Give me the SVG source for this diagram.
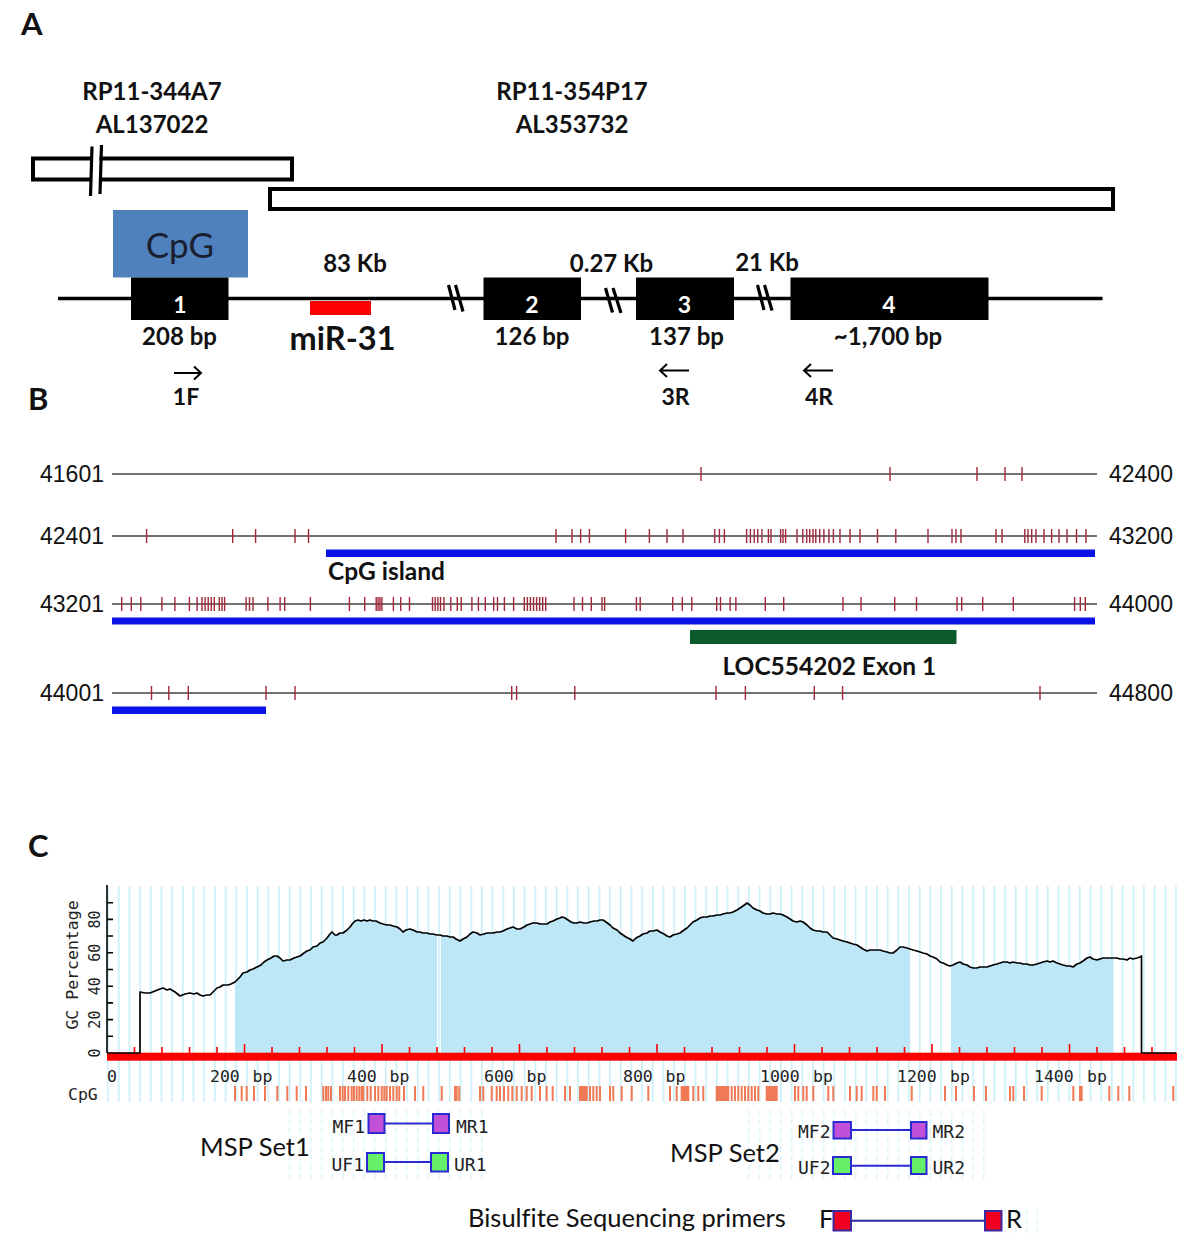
<svg xmlns="http://www.w3.org/2000/svg" width="1200" height="1242" viewBox="0 0 1200 1242">
<style>
text{font-variant-ligatures:none;font-feature-settings:"liga" 0,"clig" 0}
.b{font-family:Lato,"Open Sans","Liberation Sans",sans-serif;font-weight:bold;fill:#111}
.r{font-family:Lato,"Open Sans","Liberation Sans",sans-serif;fill:#111}
.ar{font-family:"Liberation Sans",Arial,sans-serif;font-size:23px;fill:#111}
.mo{font-family:"DejaVu Sans Mono","Liberation Mono",monospace;fill:#222}
.m{text-anchor:middle}
.ob{fill:#fff;stroke:#000;stroke-width:4}
.ex{fill:#000}
.ln{stroke:#000;stroke-width:3.5;fill:none}
.brk{stroke:#000;stroke-width:3.2;fill:none}
.arw{stroke:#000;stroke-width:2;fill:none}
.row{stroke:#444;stroke-width:1.4}
.tk{stroke:#A0283A;stroke-width:1.4;fill:none}
.cpg{stroke:#F07A55;stroke-width:2;fill:none}
.pl{stroke:#2A2AD0;stroke-width:2}
.pb{stroke:#2A2AD0;stroke-width:2}
</style>
<defs>
<pattern id="vg" patternUnits="userSpaceOnUse" x="107.2" y="0" width="10.68" height="10"><rect x="0" y="0" width="1.6" height="10" fill="#C8EFF7"/></pattern>
<pattern id="vgd" patternUnits="userSpaceOnUse" x="107.2" y="1110" width="10.68" height="9"><rect x="0" y="0" width="1.6" height="6" fill="#D6F4FA"/></pattern>
<clipPath id="fillclip"><rect x="235" y="880" width="202" height="174"/><rect x="441" y="880" width="469" height="174"/><rect x="951" y="880" width="162.5" height="174"/></clipPath>
</defs>
<rect width="1200" height="1242" fill="#fff"/>

<!-- Panel A -->
<g id="panelA">
<text class="b" x="21" y="35" font-size="31">A</text>
<g id="clone1">
<text class="b m" x="152" y="99.5" font-size="24">RP11-344A7</text>
<text class="b m" x="152" y="133" font-size="24">AL137022</text>
<path class="ob" d="M91,158.5 H33 V179.5 H91 M99.5,158.5 H292 V179.5 H99.5" fill="#fff"/>
<path class="brk" stroke-width="3.5" d="M92,146.5 L90.5,196 M101.5,145 L100,194"/>
</g>
<g id="clone2">
<text class="b m" x="572" y="99.5" font-size="24">RP11-354P17</text>
<text class="b m" x="572" y="133" font-size="24">AL353732</text>
<rect class="ob" x="270" y="189" width="843" height="20"/>
</g>
<g id="gene">
<rect x="113" y="210" width="135" height="67.5" fill="#4F81BD"/>
<text class="r m" x="180" y="258" font-size="35" style="fill:#1B2030">CpG</text>
<line class="ln" x1="58" y1="298.5" x2="1102.5" y2="298.5"/>
<path class="brk" d="M448.5,285 L455,310 M455.5,285 L463,311.5 M605.5,288 L612.5,312.5 M613,288 L621,313 M757.5,285 L764,310 M764.5,285 L772,310.5"/>
<rect class="ex" x="131" y="277.5" width="97.5" height="42.5"/>
<rect class="ex" x="483.5" y="277.5" width="97.5" height="42.5"/>
<rect class="ex" x="636" y="277.5" width="98" height="42.5"/>
<rect class="ex" x="790.5" y="277.5" width="198" height="42.5"/>
<text class="b m" x="180" y="312.5" font-size="23" style="fill:#fff">1</text>
<text class="b m" x="532" y="312.5" font-size="23" style="fill:#fff">2</text>
<text class="b m" x="684.5" y="312.5" font-size="23" style="fill:#fff">3</text>
<text class="b m" x="889" y="312.5" font-size="23" style="fill:#fff">4</text>
<rect x="310" y="301" width="61" height="14" fill="#FF0000"/>
<text class="b m" x="355" y="272" font-size="24">83 Kb</text>
<text class="b m" x="611.5" y="272" font-size="24">0.27 Kb</text>
<text class="b m" x="767" y="271" font-size="24">21 Kb</text>
<text class="b m" x="179.5" y="345" font-size="24">208 bp</text>
<text class="b m" x="342.5" y="349.5" font-size="32.5">miR-31</text>
<text class="b m" x="532" y="345" font-size="24">126 bp</text>
<text class="b m" x="686.5" y="345" font-size="24">137 bp</text>
<text class="b m" x="888" y="345" font-size="24">~1,700 bp</text>
</g>
<g id="primers">
<path class="arw" d="M174,373 H201 M194,366.5 L201,373 L194,379.5"/>
<text class="b m" x="186" y="405" font-size="23">1F</text>
<path class="arw" d="M689,370.5 H660 M667,364 L660,370.5 L667,377"/>
<text class="b m" x="675.5" y="405" font-size="23">3R</text>
<path class="arw" d="M833,370.5 H804 M811,364 L804,370.5 L811,377"/>
<text class="b m" x="819" y="405" font-size="23">4R</text>
</g>
</g>

<!-- Panel B -->
<g id="panelB">
<text class="b" x="28" y="410" font-size="31">B</text>
<g id="rows">
<line class="row" x1="112" y1="474" x2="1097" y2="474"/>
<line class="row" x1="112" y1="536" x2="1097" y2="536"/>
<line class="row" x1="112" y1="604" x2="1097" y2="604"/>
<line class="row" x1="112" y1="693" x2="1097" y2="693"/>
<text class="ar" x="104" y="482" text-anchor="end">41601</text>
<text class="ar" x="104" y="544" text-anchor="end">42401</text>
<text class="ar" x="104" y="612" text-anchor="end">43201</text>
<text class="ar" x="104" y="701" text-anchor="end">44001</text>
<text class="ar" x="1109" y="482">42400</text>
<text class="ar" x="1109" y="544">43200</text>
<text class="ar" x="1109" y="612">44000</text>
<text class="ar" x="1109" y="701">44800</text>
</g>
<g id="ticks">
<path class="tk" d="M701,467V481M890,467V481M977,467V481M1005,467V481M1022,467V481"/>
<path class="tk" d="M146.6,529V543M232.7,529V543M255.6,529V543M295,529V543M308.5,529V543M556,529V543M572,529V543M580.6,529V543M589.4,529V543M625.6,529V543M649.4,529V543M667,529V543M683,529V543M714.8,529V543M719.4,529V543M724.4,529V543M746.6,529V543M750.4,529V543M754.2,529V543M757.7,529V543M761.9,529V543M768.4,529V543M771,529V543M780.6,529V543M783,529V543M785.6,529V543M797,529V543M802.8,529V543M806.7,529V543M809.7,529V543M813,529V543M815.8,529V543M819.7,529V543M823.9,529V543M828.9,529V543M833.4,529V543M840,529V543M850,529V543M860,529V543M877.5,529V543M895.8,529V543M928,529V543M952,529V543M956,529V543M961,529V543M996,529V543M1002,529V543M1024.8,529V543M1028,529V543M1031.7,529V543M1036,529V543M1044,529V543M1051.6,529V543M1059,529V543M1067,529V543M1076.5,529V543M1086,529V543"/>
<path class="tk" d="M121.7,597V611M131.3,597V611M140.8,597V611M161.9,597V611M174.9,597V611M189.4,597V611M197.1,597V611M202,597V611M205.1,597V611M208.2,597V611M211.3,597V611M214.3,597V611M219.3,597V611M222,597V611M224.6,597V611M246.1,597V611M249.5,597V611M253,597V611M267.9,597V611M280.1,597V611M284.7,597V611M310.4,597V611M349.4,597V611M364.7,597V611M376.2,597V611M378.1,597V611M380,597V611M381.9,597V611M393.4,597V611M400.7,597V611M409.5,597V611M432.5,597V611M435.2,597V611M437.9,597V611M440.5,597V611M444,597V611M450.8,597V611M457.3,597V611M461.2,597V611M471.9,597V611M478.4,597V611M485.3,597V611M493.7,597V611M497.5,597V611M504.4,597V611M513.6,597V611M524.3,597V611M527.4,597V611M530.4,597V611M533.5,597V611M536.6,597V611M539.6,597V611M542.7,597V611M545.7,597V611M574,597V611M582.5,597V611M591.3,597V611M602,597V611M604.6,597V611M636.4,597V611M640.2,597V611M672.7,597V611M682.3,597V611M691.8,597V611M716.7,597V611M720.5,597V611M730.1,597V611M735.9,597V611M765.3,597V611M783.7,597V611M843,597V611M861,597V611M894.7,597V611M916.5,597V611M957,597V611M961.7,597V611M982.7,597V611M1013.3,597V611M1074.6,597V611M1080.3,597V611M1085.3,597V611"/>
<path class="tk" d="M151.5,686V700M168.8,686V700M188.3,686V700M266,686V700M295,686V700M511.7,686V700M516.6,686V700M574.8,686V700M716,686V700M745.4,686V700M814.3,686V700M842.6,686V700M1040,686V700"/>
</g>
<g id="annot">
<rect x="326" y="549.5" width="769" height="7.5" fill="#0A12E8"/>
<rect x="112" y="617.5" width="983" height="7" fill="#0A12E8"/>
<rect x="112" y="706.5" width="154" height="7.5" fill="#0A12E8"/>
<rect x="690" y="630" width="266.5" height="14" fill="#0A5A2C"/>
<text class="b" x="328" y="580" font-size="24.5">CpG island</text>
<text class="b" x="722.5" y="675" font-size="24.5">LOC554202 Exon 1</text>
</g>
</g>

<!-- Panel C -->
<g id="panelC">
<text class="b" x="28" y="857" font-size="31">C</text>
<rect x="107" y="886" width="1070" height="216" fill="url(#vg)"/>
<g id="curve">
<polygon clip-path="url(#fillclip)" fill="#BDE7F7" points="140,1053 140,992 145,993 150,993 155,991 160,989 163,988 167,990 170,989 175,992 180,996 185,994 190,993 194,994 197,993 200,995 203,996 207,995 210,995 213,992 217,988 220,987 223,985 228,985 231,984 235,982 240,977 243,973 247,972 250,970 253,969 257,967 261,965 264,962 267,960 271,958 274,956 277,956 280,958 283,961 287,960 290,960 294,958 297,957 300,956 304,953 307,951 310,950 313,947 317,946 320,943 323,942 327,938 330,934 332,932 335,935 337,935 340,933 343,933 347,930 350,927 353,923 355,921 358,920 361,921 364,920 367,921 370,920 373,921 376,921 380,923 383,924 387,925 390,925 393,926 397,927 400,929 403,932 406,930 410,929 413,930 417,932 420,932 423,933 427,933 430,934 433,934 437,935 440,935 443,936 447,936 450,937 453,937 456,939 460,941 463,939 467,937 470,934 473,932 477,933 480,935 484,934 487,933 490,933 493,933 497,932 500,932 503,931 507,929 510,928 513,927 517,929 520,929 524,927 527,925 530,924 533,923 537,923 540,924 543,924 547,924 550,922 553,921 557,919 560,918 562,917 565,918 568,920 571,922 574,923 577,923 580,922 584,923 587,923 590,922 594,921 597,921 600,920 603,920 606,922 610,925 613,928 617,930 620,933 623,935 626,937 630,939 633,941 636,938 640,936 643,934 647,933 650,931 653,931 657,930 660,932 664,934 667,936 670,937 673,935 677,934 680,933 684,930 687,928 690,925 693,922 697,920 700,918 703,917 707,917 710,916 713,916 717,915 720,915 723,914 727,913 730,913 733,912 737,910 740,908 743,906 747,903 750,905 753,908 757,910 760,911 763,913 767,914 770,914 773,913 777,914 780,914 783,915 787,917 790,919 793,921 797,922 800,921 803,922 807,925 810,928 813,930 817,931 820,931 823,932 827,932 830,935 833,938 837,939 840,940 843,941 847,942 850,943 853,944 857,945 860,947 863,949 867,951 870,950 873,950 877,950 880,950 883,951 887,952 890,953 893,953 897,950 900,947 903,947 907,948 910,949 913,950 917,951 920,952 923,953 927,954 930,956 933,957 937,959 940,962 943,963 947,965 950,966 953,965 957,963 960,962 963,964 967,965 970,967 973,968 977,968 980,967 983,967 987,967 990,966 993,965 997,964 1000,963 1003,962 1007,962 1010,963 1013,962 1017,963 1020,963 1023,964 1027,964 1030,965 1033,965 1037,964 1040,963 1043,962 1047,961 1050,962 1053,961 1057,963 1060,964 1063,965 1067,966 1070,966 1073,967 1077,964 1080,963 1083,961 1087,958 1090,957 1093,959 1097,960 1100,959 1103,958 1107,958 1110,958 1113,958 1117,958 1120,959 1123,959 1127,960 1130,958 1133,959 1137,958 1140,957 1141.5,956 1141.5,1053"/>
<rect x="107" y="1052.7" width="1070" height="8" fill="#FF0000"/>
<path stroke="#FF0000" stroke-width="1.6" d="M134.5,1047V1053M162,1047V1053M189.5,1047V1053M217,1047V1053M244.5,1044V1053M272,1047V1053M299.5,1047V1053M327,1047V1053M354.5,1047V1053M382,1044V1053M409.5,1047V1053M437,1047V1053M464.5,1047V1053M492,1047V1053M519.5,1044V1053M547,1047V1053M574.5,1047V1053M602,1047V1053M629.5,1047V1053M657,1044V1053M684.5,1047V1053M712,1047V1053M739.5,1047V1053M767,1047V1053M794.5,1044V1053M822,1047V1053M849.5,1047V1053M877,1047V1053M904.5,1047V1053M932,1044V1053M959.5,1047V1053M987,1047V1053M1014.5,1047V1053M1042,1047V1053M1069.5,1044V1053M1097,1047V1053M1124.5,1047V1053M1152,1047V1053"/>
<polyline fill="none" stroke="#000" stroke-width="1.7" stroke-linejoin="round" points="107,1053 140,1053 140,992 145,993 150,993 155,991 160,989 163,988 167,990 170,989 175,992 180,996 185,994 190,993 194,994 197,993 200,995 203,996 207,995 210,995 213,992 217,988 220,987 223,985 228,985 231,984 235,982 240,977 243,973 247,972 250,970 253,969 257,967 261,965 264,962 267,960 271,958 274,956 277,956 280,958 283,961 287,960 290,960 294,958 297,957 300,956 304,953 307,951 310,950 313,947 317,946 320,943 323,942 327,938 330,934 332,932 335,935 337,935 340,933 343,933 347,930 350,927 353,923 355,921 358,920 361,921 364,920 367,921 370,920 373,921 376,921 380,923 383,924 387,925 390,925 393,926 397,927 400,929 403,932 406,930 410,929 413,930 417,932 420,932 423,933 427,933 430,934 433,934 437,935 440,935 443,936 447,936 450,937 453,937 456,939 460,941 463,939 467,937 470,934 473,932 477,933 480,935 484,934 487,933 490,933 493,933 497,932 500,932 503,931 507,929 510,928 513,927 517,929 520,929 524,927 527,925 530,924 533,923 537,923 540,924 543,924 547,924 550,922 553,921 557,919 560,918 562,917 565,918 568,920 571,922 574,923 577,923 580,922 584,923 587,923 590,922 594,921 597,921 600,920 603,920 606,922 610,925 613,928 617,930 620,933 623,935 626,937 630,939 633,941 636,938 640,936 643,934 647,933 650,931 653,931 657,930 660,932 664,934 667,936 670,937 673,935 677,934 680,933 684,930 687,928 690,925 693,922 697,920 700,918 703,917 707,917 710,916 713,916 717,915 720,915 723,914 727,913 730,913 733,912 737,910 740,908 743,906 747,903 750,905 753,908 757,910 760,911 763,913 767,914 770,914 773,913 777,914 780,914 783,915 787,917 790,919 793,921 797,922 800,921 803,922 807,925 810,928 813,930 817,931 820,931 823,932 827,932 830,935 833,938 837,939 840,940 843,941 847,942 850,943 853,944 857,945 860,947 863,949 867,951 870,950 873,950 877,950 880,950 883,951 887,952 890,953 893,953 897,950 900,947 903,947 907,948 910,949 913,950 917,951 920,952 923,953 927,954 930,956 933,957 937,959 940,962 943,963 947,965 950,966 953,965 957,963 960,962 963,964 967,965 970,967 973,968 977,968 980,967 983,967 987,967 990,966 993,965 997,964 1000,963 1003,962 1007,962 1010,963 1013,962 1017,963 1020,963 1023,964 1027,964 1030,965 1033,965 1037,964 1040,963 1043,962 1047,961 1050,962 1053,961 1057,963 1060,964 1063,965 1067,966 1070,966 1073,967 1077,964 1080,963 1083,961 1087,958 1090,957 1093,959 1097,960 1100,959 1103,958 1107,958 1110,958 1113,958 1117,958 1120,959 1123,959 1127,960 1130,958 1133,959 1137,958 1140,957 1141.5,956 1141.5,1053 1176,1053"/>
</g>
<g id="axes">
<path stroke="#000" stroke-width="1.6" fill="none" d="M107,885V1053M107,902.7H113M107,919.4H113M107,936H113M107,952.8H113M107,969.5H113M107,986.2H113M107,1002.9H113M107,1019.6H113M107,1036.3H113"/>
<text class="mo" font-size="16.5" transform="translate(78,965) rotate(-90)" text-anchor="middle">GC Percentage</text>
<text class="mo" font-size="15" transform="translate(100,1053) rotate(-90)" text-anchor="middle">0</text>
<text class="mo" font-size="15" transform="translate(100,1019.6) rotate(-90)" text-anchor="middle">20</text>
<text class="mo" font-size="15" transform="translate(100,986.2) rotate(-90)" text-anchor="middle">40</text>
<text class="mo" font-size="15" transform="translate(100,952.8) rotate(-90)" text-anchor="middle">60</text>
<text class="mo" font-size="15" transform="translate(100,919.4) rotate(-90)" text-anchor="middle">80</text>
<g class="mo" font-size="16.5">
<text x="107" y="1082">0</text>
<text x="210" y="1082">200</text><text x="252.5" y="1082">bp</text>
<text x="347" y="1082">400</text><text x="389.5" y="1082">bp</text>
<text x="484" y="1082">600</text><text x="526.5" y="1082">bp</text>
<text x="623" y="1082">800</text><text x="665.5" y="1082">bp</text>
<text x="760" y="1082">1000</text><text x="813" y="1082">bp</text>
<text x="897" y="1082">1200</text><text x="950" y="1082">bp</text>
<text x="1034" y="1082">1400</text><text x="1087" y="1082">bp</text>
</g>
<text class="mo" x="68" y="1100" font-size="16.5">CpG</text>
<path class="cpg" d="M235,1086V1101M241.7,1086V1101M246.7,1086V1101M254,1086V1101M265,1086V1101M277.3,1086V1101M287.3,1086V1101M296.7,1086V1101M306,1086V1101M323.3,1086V1101M326,1086V1101M328.3,1086V1101M331,1086V1101M340,1086V1101M342.7,1086V1101M345,1086V1101M348.3,1086V1101M351.7,1086V1101M354,1086V1101M356.7,1086V1101M359.3,1086V1101M361.7,1086V1101M363.3,1086V1101M367.3,1086V1101M370.7,1086V1101M375,1086V1101M378.3,1086V1101M381.7,1086V1101M384.3,1086V1101M386.7,1086V1101M390,1086V1101M393.3,1086V1101M396.7,1086V1101M399.3,1086V1101M404,1086V1101M415,1086V1101M423.3,1086V1101M441.7,1086V1101M455,1086V1101M456.7,1086V1101M459.3,1086V1101M480,1086V1101M483.3,1086V1101M491.7,1086V1101M496.7,1086V1101M500,1086V1101M504,1086V1101M508.3,1086V1101M512.3,1086V1101M516.7,1086V1101M521.7,1086V1101M526.7,1086V1101M531.7,1086V1101M540,1086V1101M546.7,1086V1101M552.7,1086V1101M565,1086V1101M570,1086V1101M580,1086V1101M581.7,1086V1101M583.3,1086V1101M585,1086V1101M586.7,1086V1101M590,1086V1101M593.3,1086V1101M596.7,1086V1101M600,1086V1101M610,1086V1101M613.3,1086V1101M621.7,1086V1101M631.7,1086V1101M648.3,1086V1101M670,1086V1101M676.7,1086V1101M681.7,1086V1101M683.3,1086V1101M685,1086V1101M686.7,1086V1101M688.3,1086V1101M693.3,1086V1101M698.3,1086V1101M703.3,1086V1101M716.7,1086V1101M718.3,1086V1101M720,1086V1101M721.7,1086V1101M723.3,1086V1101M725,1086V1101M726.7,1086V1101M728.3,1086V1101M731.7,1086V1101M735,1086V1101M738.3,1086V1101M741.7,1086V1101M745,1086V1101M748.3,1086V1101M751.7,1086V1101M755,1086V1101M758.3,1086V1101M766.7,1086V1101M768.3,1086V1101M770,1086V1101M771.7,1086V1101M773.3,1086V1101M775,1086V1101M776.7,1086V1101M795,1086V1101M798.3,1086V1101M803.3,1086V1101M806.7,1086V1101M813.3,1086V1101M828.3,1086V1101M833.3,1086V1101M850,1086V1101M856.7,1086V1101M861.7,1086V1101M873.3,1086V1101M876.7,1086V1101M885,1086V1101M911.7,1086V1101M945,1086V1101M956,1086V1101M974,1086V1101M986,1086V1101M1010,1086V1101M1013.3,1086V1101M1024,1086V1101M1041.7,1086V1101M1073.3,1086V1101M1080,1086V1101M1081.7,1086V1101M1109.3,1086V1101M1118.3,1086V1101M1129.3,1086V1101M1173.3,1086V1101"/>
</g>
<g id="primerGrid" opacity="0.8">
<rect x="280" y="1110" width="210" height="72" fill="url(#vgd)"/>
<rect x="745" y="1110" width="240" height="72" fill="url(#vgd)"/>
<rect x="993" y="1207" width="45" height="27" fill="url(#vgd)"/>
</g>
<g id="mspSet1">
<text class="r" x="200" y="1156" font-size="25.5">MSP Set1</text>
<line class="pl" x1="384" y1="1123.5" x2="433" y2="1123.5"/>
<rect class="pb" x="368.5" y="1114" width="16" height="19" fill="#C050D8"/>
<rect class="pb" x="433" y="1114" width="16" height="19" fill="#C050D8"/>
<line class="pl" x1="384" y1="1162" x2="431" y2="1162"/>
<rect class="pb" x="367" y="1153" width="17" height="18.5" fill="#66F06A"/>
<rect class="pb" x="431" y="1153" width="17" height="18.5" fill="#66F06A"/>
<text class="mo" x="332.5" y="1133" font-size="18">MF1</text>
<text class="mo" x="456" y="1133" font-size="18">MR1</text>
<text class="mo" x="331.5" y="1171" font-size="18">UF1</text>
<text class="mo" x="454" y="1171" font-size="18">UR1</text>
</g>
<g id="mspSet2">
<text class="r" x="670" y="1162" font-size="25.5">MSP Set2</text>
<line class="pl" x1="851" y1="1130" x2="911" y2="1130"/>
<rect class="pb" x="833.5" y="1122" width="17.5" height="16.5" fill="#C050D8"/>
<rect class="pb" x="911" y="1122" width="15.5" height="16.5" fill="#C050D8"/>
<line class="pl" x1="851" y1="1165.7" x2="911" y2="1165.7"/>
<rect class="pb" x="833" y="1157" width="18" height="17" fill="#66F06A"/>
<rect class="pb" x="911" y="1157" width="15.5" height="17" fill="#66F06A"/>
<text class="mo" x="798" y="1138" font-size="18">MF2</text>
<text class="mo" x="932.5" y="1138" font-size="18">MR2</text>
<text class="mo" x="798" y="1174" font-size="18">UF2</text>
<text class="mo" x="932.5" y="1174" font-size="18">UR2</text>
</g>
<g id="bsp">
<text class="r" x="468" y="1227" font-size="25.5">Bisulfite Sequencing primers</text>
<line x1="851" y1="1220.7" x2="985" y2="1220.7" stroke="#2A2AA0" stroke-width="2"/>
<rect x="833.5" y="1211" width="17.5" height="19.5" fill="#F00020" stroke="#3A2AA0" stroke-width="2"/>
<rect x="985" y="1211" width="16.5" height="19.5" fill="#F00020" stroke="#3A2AA0" stroke-width="2"/>
<text class="r" x="819" y="1228" font-size="25.5">F</text>
<text class="r" x="1006" y="1228" font-size="25.5">R</text>
</g>
</g>
</svg>
